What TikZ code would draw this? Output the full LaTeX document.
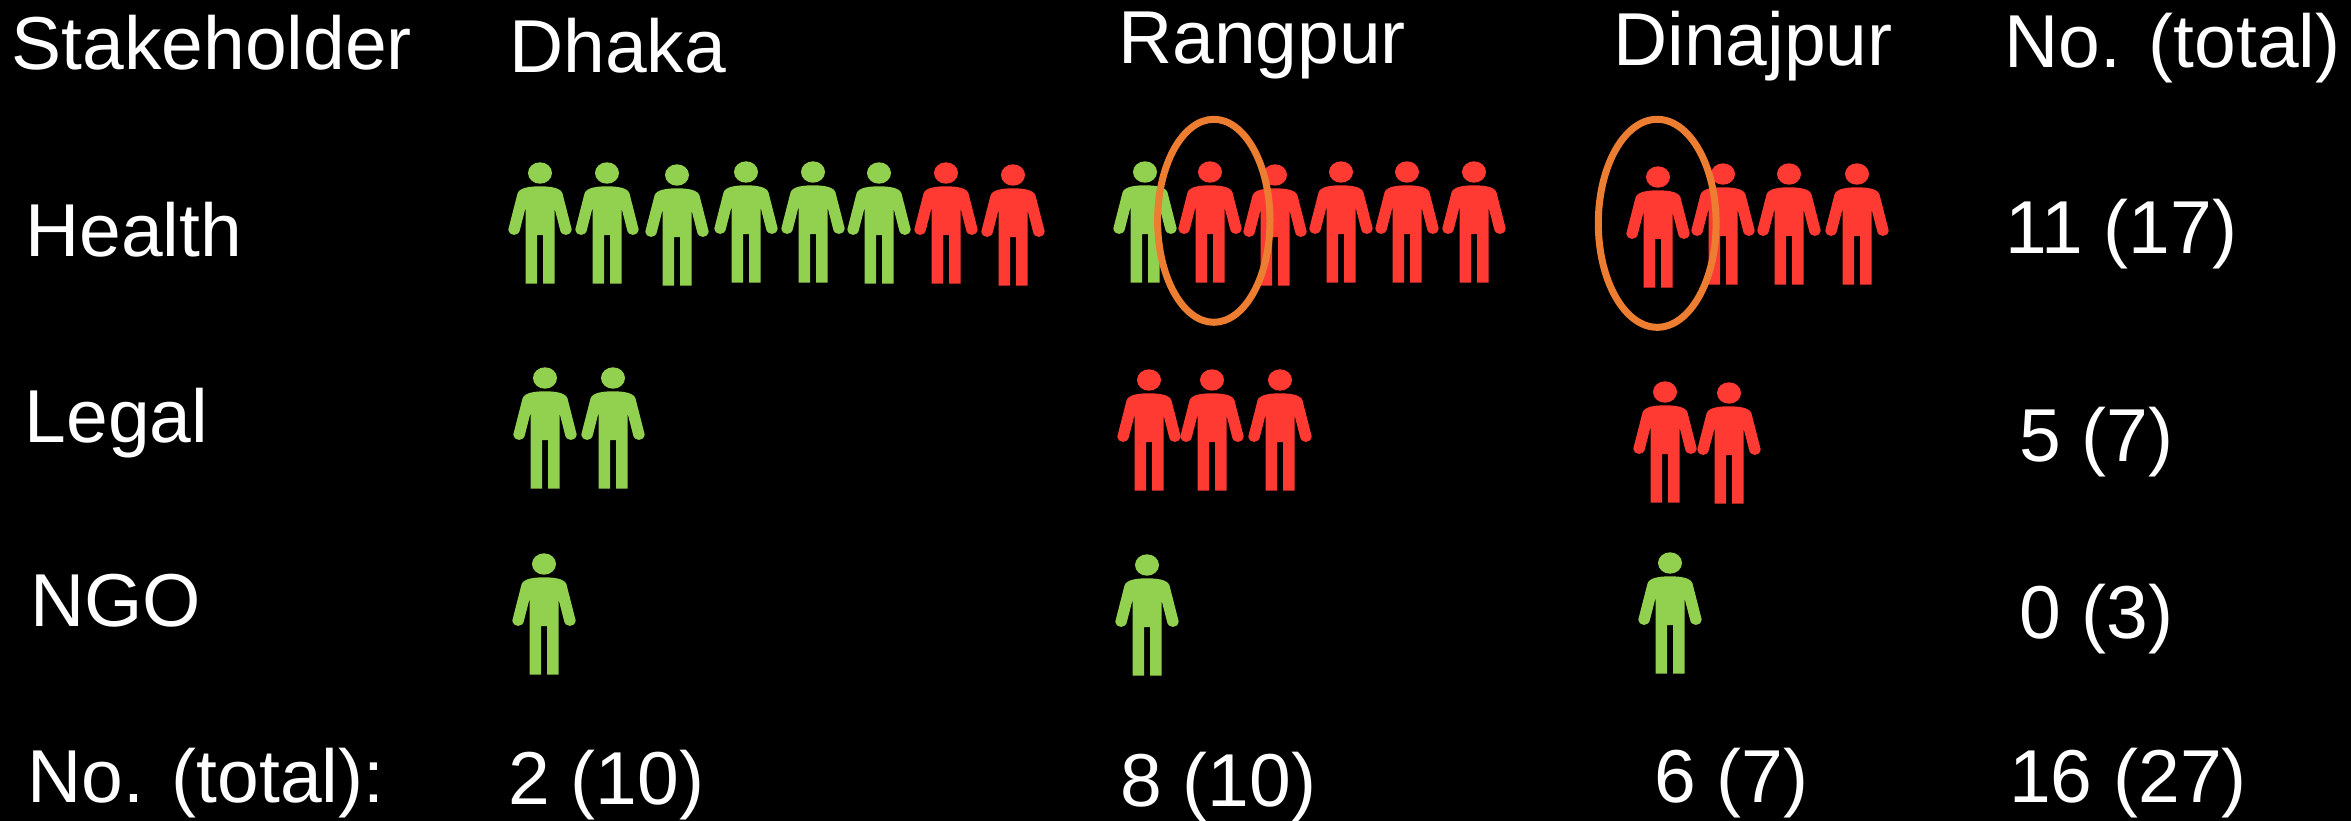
\documentclass[tikz,border=0pt]{standalone}
\usepackage{fontspec}
\setmainfont{Liberation Sans}
\definecolor{pgreen}{RGB}{146,208,80}
\definecolor{pred}{RGB}{255,58,51}
\definecolor{porange}{RGB}{237,125,49}
\tikzset{
  lbl/.style={text=white, inner sep=0pt, anchor=base west, font=\fontsize{75}{90}\selectfont},
  ring/.style={draw=porange, line width=7pt},
  person/.pic={
    \fill[#1] (0,0) ellipse [x radius=12pt, y radius=10.7pt];
    \fill[#1] (-14.5,110.5) -- (-14.5,35) -- (-20,56.5)
      .. controls (-21,63.5) and (-30.5,64) .. (-31.7,56.5)
      -- (-22.5,20.5) .. controls (-20.5,14.5) and (-10,13.3) .. (0,13.3)
      .. controls (10,13.3) and (20.5,14.5) .. (22.5,20.5)
      -- (31.7,56.5) .. controls (30.5,64) and (21,63.5) .. (20,56.5)
      -- (14.5,35) -- (14.5,110.5) -- (3,110.5) -- (3,62) -- (-3,62) -- (-3,110.5) -- cycle;
  }
}
\begin{document}
\begin{tikzpicture}[x=1pt, y=-1pt]
\useasboundingbox (0,0) rectangle (2351,820);
\fill[black] (-10,-10) rectangle (2361,830);
% header
\node[lbl] (hStake) at (11.5,69) {Stakeholder};
\node[lbl] (hDhaka) at (509,72) {Dhaka};
\node[lbl] (hRang) at (1118,63) {Rangpur};
\node[lbl] (hDina) at (1613,65) {Dinajpur};
\node[lbl] (hTot) at (2004,67) {No. (total)};
% row labels
\node[lbl] (rHealth) at (25,256) {Health};
\node[lbl] (rLegal) at (24.5,442) {Legal};
\node[lbl] (rNGO) at (30,626) {NGO};
\node[lbl] (rTot) at (27,802) {No. (total):};
% totals
\node[lbl] (tHealth) at (2005,253) {11 (17)};
\node[lbl] (tLegal) at (2019,461) {5 (7)};
\node[lbl] (tNGO) at (2019,638) {0 (3)};
\node[lbl] (tDhaka) at (508,804) {2 (10)};
\node[lbl] (tRang) at (1120,806) {8 (10)};
\node[lbl] (tDina) at (1654,802) {6 (7)};
\node[lbl] (tAll) at (2009,802) {16 (27)};
% Health row
\foreach \x/\y/\c in {540/173/pgreen,607/173/pgreen,677/175/pgreen,746/172/pgreen,813/172/pgreen,879/173/pgreen,946/173/pred,1013/175/pred,
  1145/172/pgreen,1210/172/pred,1275/175/pred,1341/172/pred,1407/172/pred,1474/172/pred,
  1658/177/pred,1723/174/pred,1789/174/pred,1857/174/pred}
  \pic at (\x,\y) {person=\c};
% Legal row
\foreach \x/\y/\c in {545/378/pgreen,613/378/pgreen,1149/380/pred,1212/380/pred,1280/380/pred,1665/392/pred,1729/393/pred}
  \pic at (\x,\y) {person=\c};
% NGO row
\foreach \x/\y/\c in {544/564/pgreen,1147/565/pgreen,1670/563/pgreen}
  \pic at (\x,\y) {person=\c};
% highlight rings
\draw[ring] (1213.8,220.8) ellipse [x radius=56.2pt, y radius=101.5pt];
\draw[ring] (1657.2,223.3) ellipse [x radius=58.9pt, y radius=104pt];
\end{tikzpicture}
\end{document}
